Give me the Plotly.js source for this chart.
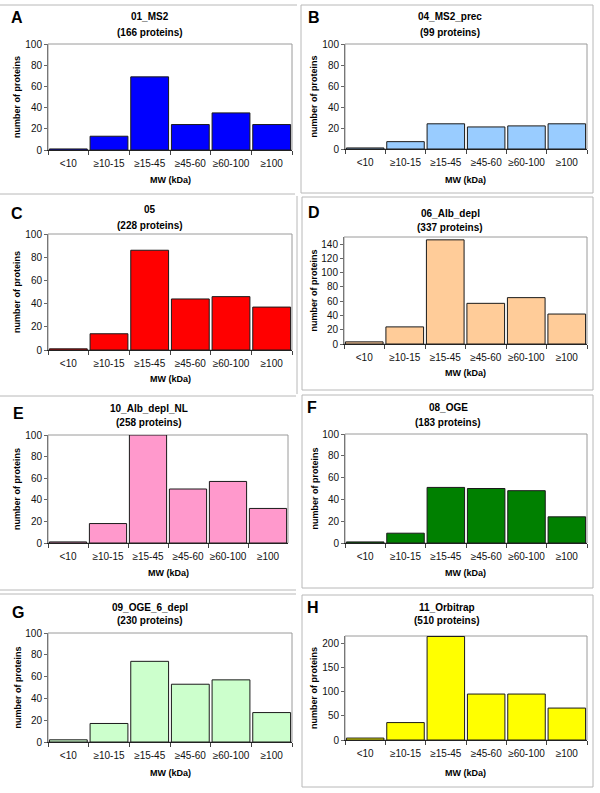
<!DOCTYPE html>
<html>
<head>
<meta charset="utf-8">
<script src="https://cdn.plot.ly/plotly-3.0.1.min.js"></script>
<style>
  html, body { margin: 0; padding: 0; background: #fff; }
  #plot { width: 600px; height: 793px; }
</style>
</head>
<body>
<div id="plot"></div>
<script>
// ─────────────────────────────────────────
// DATA: protein counts per MW class
// ─────────────────────────────────────────
var categories = ["<10", "≥10-15", "≥15-45", "≥45-60", "≥60-100", "≥100"];

var valuesA = [1, 13, 69, 24, 35, 24];   // 01_MS2
var valuesB = [1, 7, 24, 21, 22, 24];    // 04_MS2_prec
var valuesC = [1, 14, 86, 44, 46, 37];   // 05
var valuesD = [3, 24, 146, 57, 65, 42];  // 06_Alb_depl
var valuesE = [1, 18, 100, 50, 57, 32];  // 10_Alb_depl_NL
var valuesF = [1, 9, 51, 50, 48, 24];    // 08_OGE
var valuesG = [2, 17, 74, 53, 57, 27];   // 09_OGE_6_depl
var valuesH = [4, 36, 214, 95, 95, 66];  // 11_Orbitrap

var letters = ["A", "B", "C", "D", "E", "F", "G", "H"];
var names = ["01_MS2", "04_MS2_prec", "05", "06_Alb_depl",
             "10_Alb_depl_NL", "08_OGE", "09_OGE_6_depl", "11_Orbitrap"];
var counts = [166, 99, 228, 337, 258, 183, 230, 510];
var yMax = [100, 100, 100, 150, 100, 100, 100, 215];
var yStep = [20, 20, 20, 20, 20, 20, 20, 50];

// ─────────────────────────────────────────
// Layout in pixels (converted to paper coords below)
// ─────────────────────────────────────────
var W = 600, H = 793;
var panels = [
    { v: valuesA, c: "#0000ff", l: 48,  r: 292, t: 44,  b: 150, cx: 150, t1: 16,  t2: 32,  lx: 17,  ly: 18,  xt: 180 },
    { v: valuesB, c: "#99ccff", l: 345, r: 587, t: 44,  b: 149, cx: 450, t1: 16,  t2: 32,  lx: 314, ly: 17,  xt: 180 },
    { v: valuesC, c: "#ff0000", l: 48,  r: 292, t: 234, b: 350, cx: 150, t1: 210, t2: 225, lx: 17,  ly: 213, xt: 379 },
    { v: valuesD, c: "#ffcc99", l: 344, r: 587, t: 237, b: 344, cx: 450, t1: 213, t2: 227, lx: 314, ly: 212, xt: 373 },
    { v: valuesE, c: "#ff99cc", l: 48,  r: 288, t: 435, b: 543, cx: 149, t1: 408, t2: 422, lx: 18,  ly: 413, xt: 573 },
    { v: valuesF, c: "#008000", l: 345, r: 587, t: 434, b: 543, cx: 448, t1: 407, t2: 422, lx: 312, ly: 407, xt: 573 },
    { v: valuesG, c: "#ccffcc", l: 48,  r: 292, t: 633, b: 742, cx: 150, t1: 607, t2: 620, lx: 18,  ly: 612, xt: 773 },
    { v: valuesH, c: "#ffff00", l: 345, r: 587, t: 636, b: 740, cx: 447, t1: 607, t2: 620, lx: 313, ly: 607, xt: 773 }
];

function px(x) { return x / W; }
function py(y) { return 1 - y / H; }

var FONT = "Liberation Sans, Arial, sans-serif";

var traces = [];
var annotations = [];
var shapes = [];
var layout = {
    width: W,
    height: H,
    margin: { l: 0, r: 0, t: 0, b: 0 },
    paper_bgcolor: "#ffffff",
    plot_bgcolor: "#ffffff",
    showlegend: false,
    bargap: 0.07,
    font: { family: FONT, size: 10, color: "#000" }
};

panels.forEach(function (p, i) {
    var n = i === 0 ? "" : String(i + 1);

    traces.push({
        type: "bar",
        x: categories,
        y: p.v,
        xaxis: "x" + n,
        yaxis: "y" + n,
        marker: { color: p.c, line: { color: "#1a1a1a", width: 1 } },
        hoverinfo: "x+y"
    });

    layout["xaxis" + n] = {
        domain: [px(p.l), px(p.r)],
        anchor: "y" + n,
        type: "category",
        showline: true,
        linecolor: "#222",
        linewidth: 1,
        ticks: "outside",
        tickson: "boundaries",
        ticklen: 4,
        tickcolor: "#444",
        tickangle: 0,
        ticklabelstandoff: 4,
        showgrid: false,
        zeroline: false,
        tickfont: { family: FONT, size: 10, color: "#111" },
        fixedrange: true
    };
    layout["yaxis" + n] = {
        domain: [py(p.b), py(p.t)],
        anchor: "x" + n,
        range: [0, yMax[i]],
        dtick: yStep[i],
        showline: true,
        linecolor: "#777",
        linewidth: 1,
        ticks: "outside",
        ticklen: 3,
        tickcolor: "#666",
        showgrid: false,
        zeroline: false,
        tickfont: { family: FONT, size: 10, color: "#111" },
        fixedrange: true
    };

    // plot area border (gray, Excel style)
    shapes.push({
        type: "rect", layer: "below",
        xref: "x" + n + " domain", yref: "y" + n + " domain",
        x0: 0, x1: 1, y0: 0, y1: 1,
        line: { color: "#9a9a9a", width: 1 }
    });

    // panel letter
    annotations.push({
        text: "<b>" + letters[i] + "</b>",
        xref: "paper", yref: "paper", x: px(p.lx), y: py(p.ly),
        xanchor: "center", yanchor: "middle", showarrow: false,
        font: { family: FONT, size: 16, color: "#000" }
    });
    // title (2 lines)
    annotations.push({
        text: "<b>" + names[i] + "</b>",
        xref: "paper", yref: "paper", x: px(p.cx), y: py(p.t1),
        xanchor: "center", yanchor: "middle", showarrow: false,
        font: { family: FONT, size: 10, color: "#000" }
    });
    annotations.push({
        text: "<b>(" + counts[i] + " proteins)</b>",
        xref: "paper", yref: "paper", x: px(p.cx), y: py(p.t2),
        xanchor: "center", yanchor: "middle", showarrow: false,
        font: { family: FONT, size: 10, color: "#000" }
    });
    // axis titles
    annotations.push({
        text: "<b>MW (kDa)</b>",
        xref: "paper", yref: "paper", x: px((p.l + p.r) / 2), y: py(p.xt),
        xanchor: "center", yanchor: "middle", showarrow: false,
        font: { family: FONT, size: 9, color: "#000" }
    });
    annotations.push({
        text: "<b>number of proteins</b>",
        xref: "paper", yref: "paper", x: px(p.l - 31), y: py((p.t + p.b) / 2),
        xanchor: "center", yanchor: "middle", showarrow: false, textangle: -90,
        font: { family: FONT, size: 9, color: "#000" }
    });
});

// ─────────────────────────────────────────
// Panel frames (light gray lines of the figure)
// ─────────────────────────────────────────
var frameColor = "#b8b8b8";
function hline(x0, x1, y) {
    shapes.push({ type: "line", xref: "paper", yref: "paper",
        x0: px(x0), x1: px(x1), y0: py(y), y1: py(y),
        line: { color: frameColor, width: 1 } });
}
function vline(x, y0, y1) {
    shapes.push({ type: "line", xref: "paper", yref: "paper",
        x0: px(x), x1: px(x), y0: py(y0), y1: py(y1),
        line: { color: frameColor, width: 1 } });
}
function box(x0, y0, x1, y1) {
    shapes.push({ type: "rect", xref: "paper", yref: "paper",
        x0: px(x0), x1: px(x1), y0: py(y1), y1: py(y0),
        line: { color: frameColor, width: 1 } });
}

// left column
hline(0, 297, 5);
hline(0, 295, 194);
vline(297, 196, 394);
hline(0, 296, 396);
hline(0, 296, 590);
hline(0, 296, 594);
// right column
box(301, 5, 593, 193);
box(302, 197, 593, 390);
box(302, 395, 593, 588);
box(302, 595, 593, 787);

layout.shapes = shapes;
layout.annotations = annotations;

Plotly.newPlot("plot", traces, layout, { displayModeBar: false, staticPlot: true });
</script>
</body>
</html>
